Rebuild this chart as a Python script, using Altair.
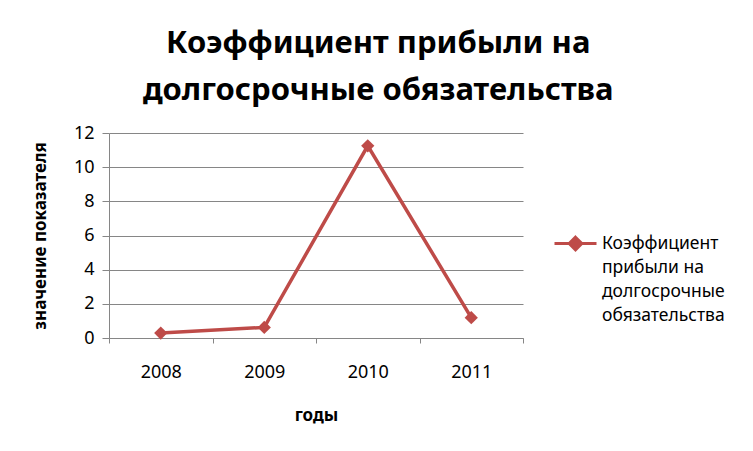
import altair as alt
import pandas as pd

years = [2008, 2009, 2010, 2011]
values = [0.29, 0.62, 11.25, 1.19]
series_name = "Коэффициент прибыли на долгосрочные обязательства"
legend_lines = ["Коэффициент", "прибыли на", "долгосрочные", "обязательства"]
title_lines = ["Коэффициент прибыли на", "долгосрочные обязательства"]
y_ticks = [0, 2, 4, 6, 8, 10, 12]
x_edges = [2007.5, 2008.5, 2009.5, 2010.5, 2011.5]

df = pd.DataFrame({"year": years, "value": values, "series": [series_name] * len(years)})

FONT = "Noto Sans"
RED = "#BE4B48"
GRID = "#868686"

label_expr = "[" + ", ".join("'" + s + "'" for s in legend_lines) + "]"

line = alt.Chart(df).mark_line(
    strokeWidth=3.5,
    point=alt.OverlayMarkDef(shape="diamond", size=175, filled=True, color=RED),
).encode(
    x=alt.X(
        "year:Q",
        scale=alt.Scale(domain=[x_edges[0], x_edges[-1]], nice=False, zero=False),
        axis=alt.Axis(
            values=x_edges,
            labelExpr="datum.value < 2011 ? toString(datum.value + 0.5) : ''",
            labelOffset=51.75,
            labelFlush=False,
            labelOverlap=False,
            labelPadding=20,
            grid=False,
            tickSize=5,
            tickColor=GRID,
            domainColor=GRID,
            title="годы",
            titlePadding=26,
        ),
    ),
    y=alt.Y(
        "value:Q",
        scale=alt.Scale(domain=[0, 12], nice=False),
        axis=alt.Axis(
            values=y_ticks,
            grid=True,
            gridColor=GRID,
            tickSize=7,
            tickColor=GRID,
            domainColor=GRID,
            labelPadding=8,
            title="значение показателя",
            titlePadding=24,
        ),
    ),
    color=alt.Color(
        "series:N",
        scale=alt.Scale(range=[RED]),
        legend=alt.Legend(
            title=None,
            orient="none",
            legendX=444,
            legendY=88,
            symbolType="M-1,0H1M0,-0.3L0.3,0L0,0.3L-0.3,0Z",
            symbolSize=1764,
            symbolStrokeWidth=3,
            symbolStrokeColor=RED,
            symbolFillColor=RED,
            labelExpr=label_expr,
            labelFontSize=17.5,
            labelBaseline="middle",
            labelFont=FONT,
            labelColor="#000000",
            labelLimit=300,
        ),
    ),
)

chart = line.properties(
    width=414,
    height=205,
    title=alt.TitleParams(
        text=title_lines,
        fontSize=31,
        font=FONT,
        fontWeight="bold",
        lineHeight=47,
        anchor="middle",
        frame="bounds",
        offset=17,
        color="#000000",
    ),
    padding={"left": 23, "top": 20, "right": 5, "bottom": 5},
).configure(
    style={"guide-label": {"lineHeight": 24}},
).configure_view(stroke=None).configure_axis(
    labelFont=FONT,
    labelFontSize=18,
    labelColor="#000000",
    titleFont=FONT,
    titleFontSize=17,
    titleFontWeight="bold",
    titleColor="#000000",
)

chart.save("out.html", embed_options={"renderer": "svg", "actions": False})
